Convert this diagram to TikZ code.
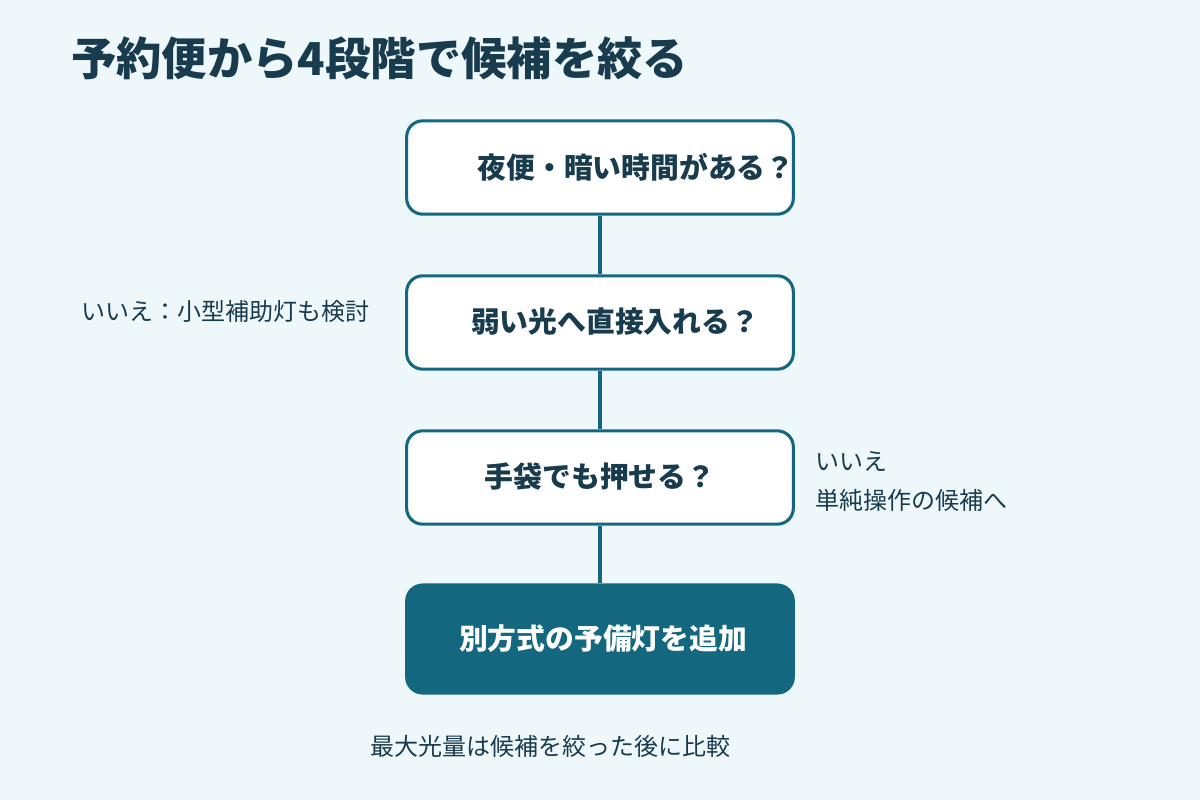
\documentclass[tikz,border=0pt]{standalone}
\usepackage{fontspec}
\setmainfont{Noto Sans CJK JP}
\definecolor{bg}{HTML}{EEF8FB}
\definecolor{ink}{HTML}{183B4E}
\definecolor{teal}{HTML}{13677F}
\begin{document}
\begin{tikzpicture}[x=0.75pt,y=-0.75pt,
 box/.style={draw=teal,line width=2.3pt,fill=white,rounded corners=12pt,minimum width=290pt,minimum height=70pt,inner sep=0pt},
 lbl/.style={font=\bfseries\fontsize{21.6}{26}\selectfont,text=ink},
 side/.style={font=\fontsize{18}{22}\selectfont,text=ink,anchor=west,inner sep=0pt},
 conn/.style={draw=teal,line width=2.3pt}]
\fill[bg] (0,0) rectangle (1200,800);
\useasboundingbox (0,0) rectangle (1200,800);
\node[anchor=west,inner sep=0pt,text=ink,font=\bfseries\fontsize{34}{40}\selectfont] (title) at (71,58) {予約便から4段階で候補を絞る};
\node[box] (b1) at (600,167.5) {};
\node[box] (b2) at (600,322.5) {};
\node[box] (b3) at (600,477.5) {};
\node[box,fill=teal,minimum height=81pt] (b4) at (600,639) {};
\node[lbl] (t1) at (636,167) {夜便・暗い時間がある？};
\node[lbl] (t2) at (615,322) {弱い光へ直接入れる？};
\node[lbl] (t3) at (600,477) {手袋でも押せる？};
\node[lbl,text=white] (t4) at (603,639) {別方式の予備灯を追加};
\draw[conn] (b1.south) -- (b2.north);
\draw[conn] (b2.south) -- (b3.north);
\draw[conn] (b3.south) -- (b4.north);
\node[side] (s1) at (81,311) {いいえ：小型補助灯も検討};
\node[side] (s2) at (815,462) {いいえ};
\node[side] (s3) at (815,500) {単純操作の候補へ};
\node[side,anchor=center] (s4) at (550,746) {最大光量は候補を絞った後に比較};
\end{tikzpicture}
\end{document}
